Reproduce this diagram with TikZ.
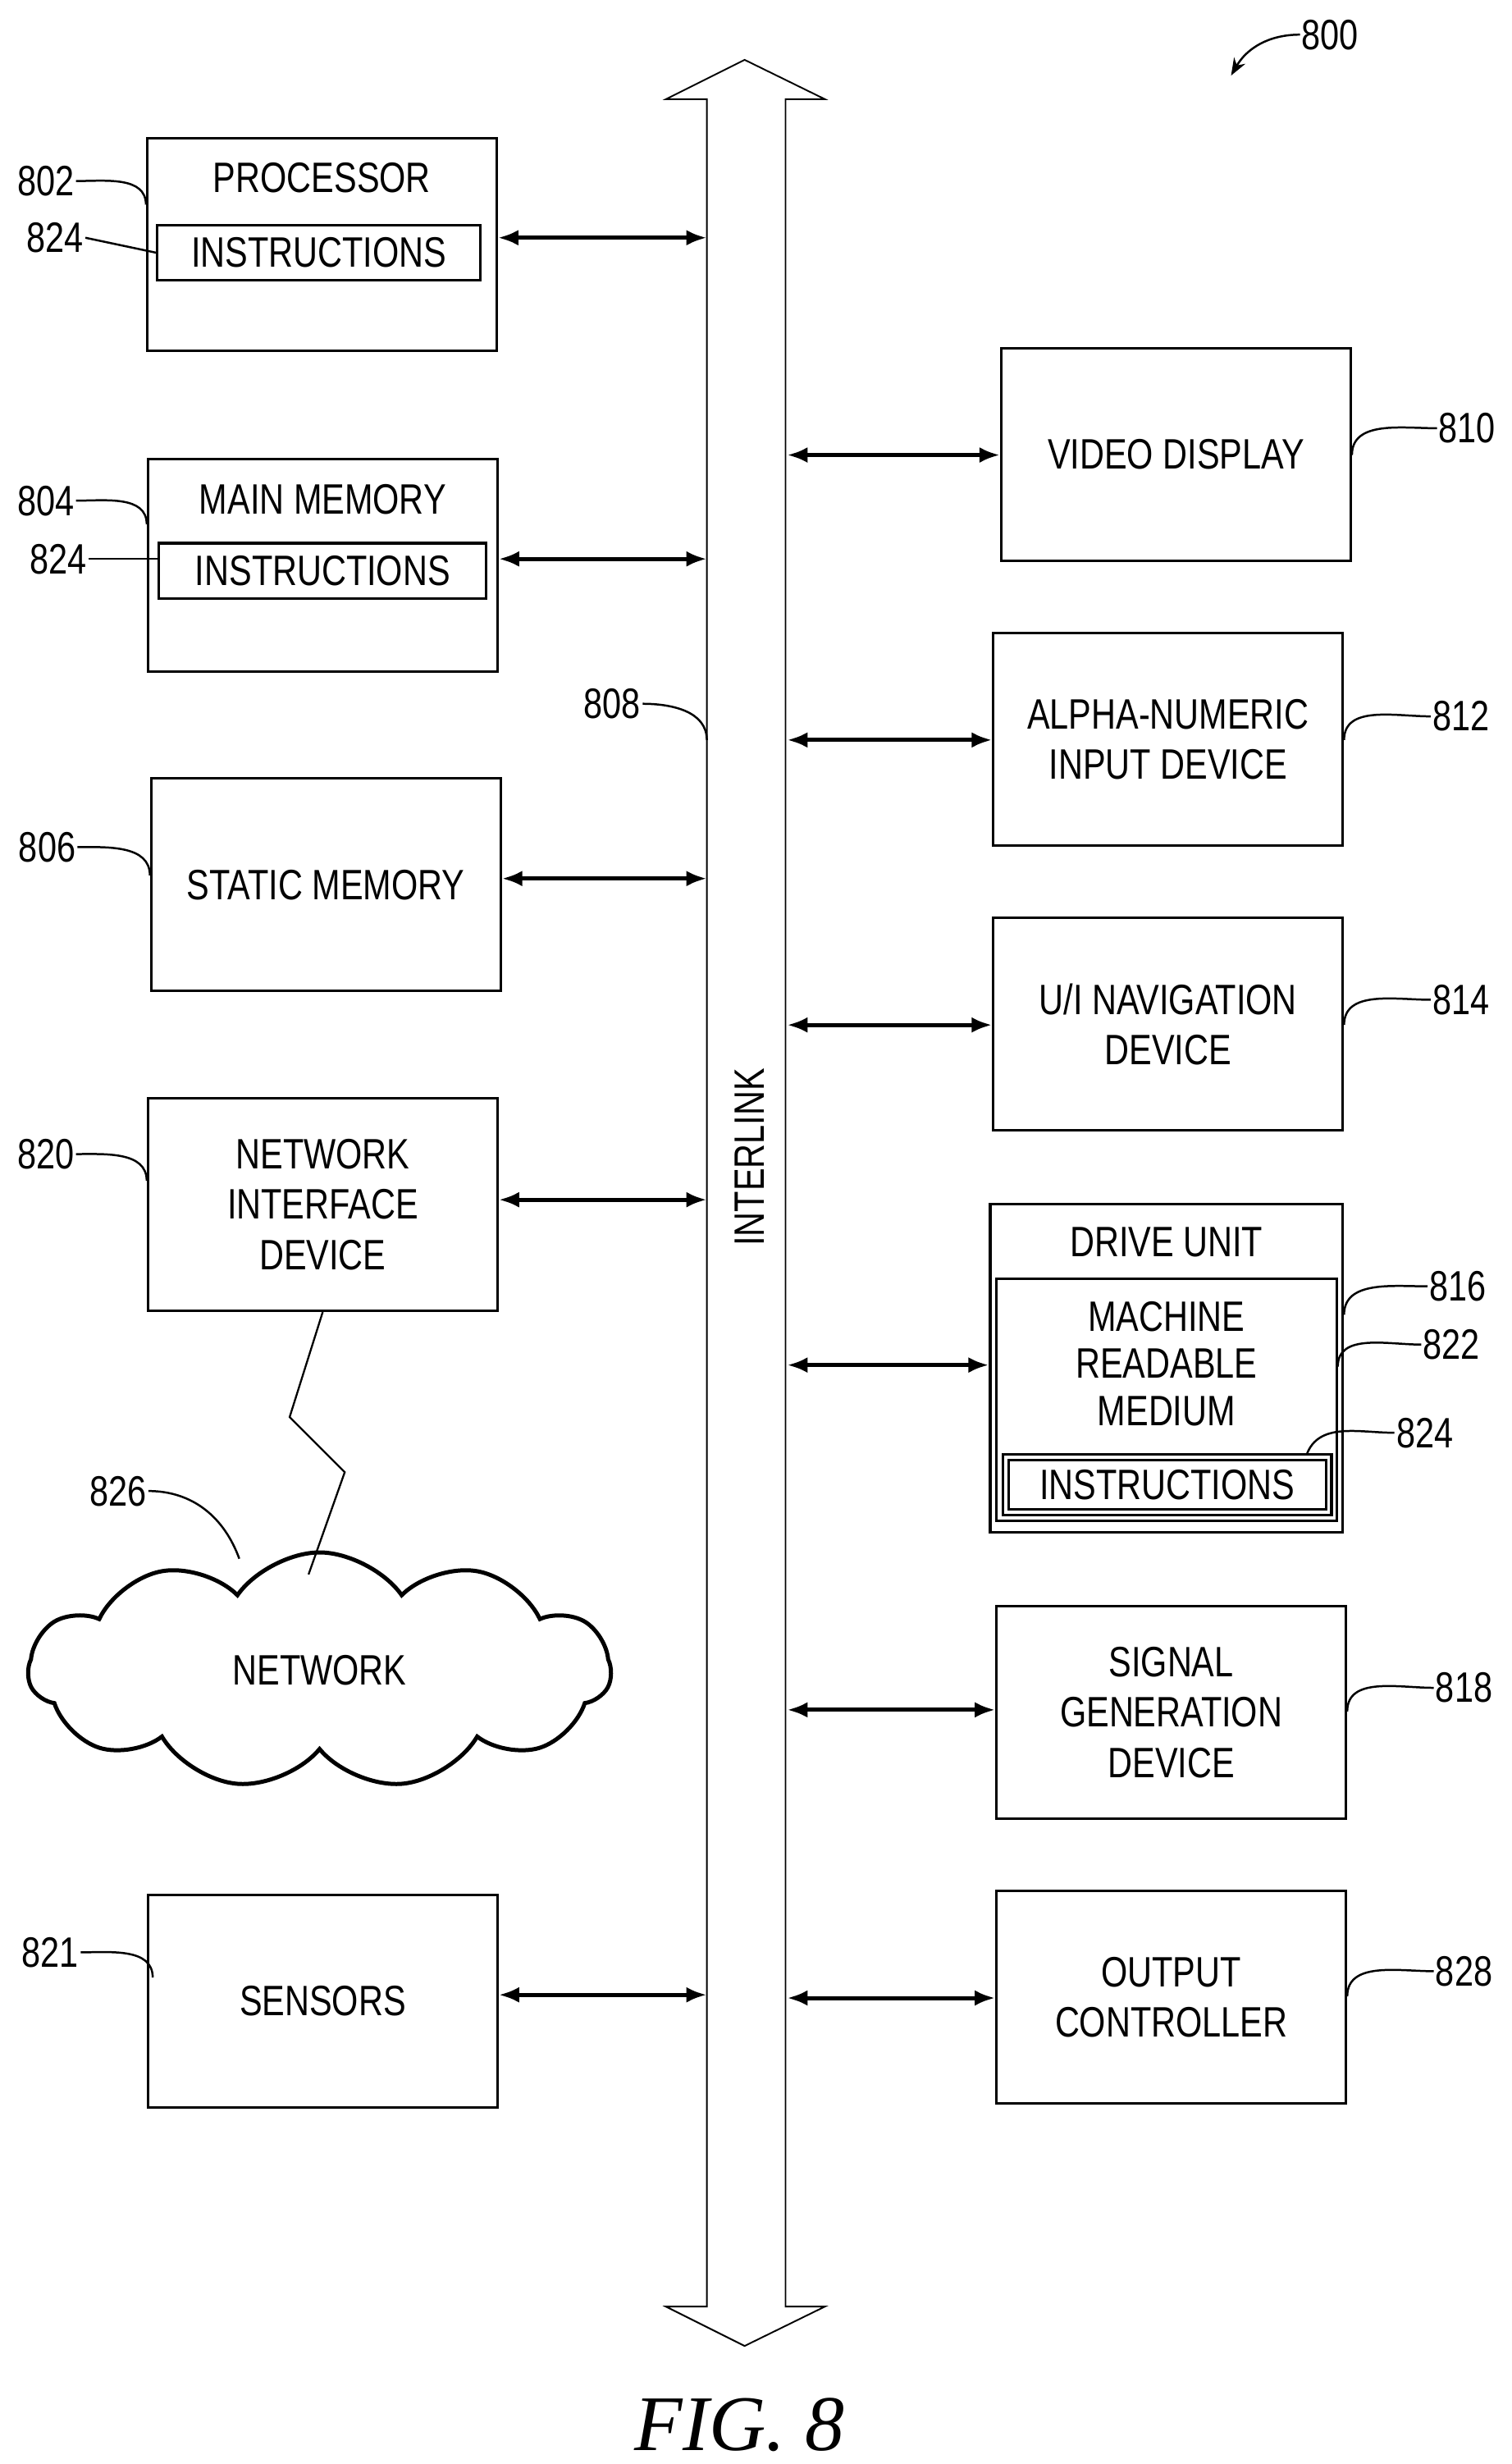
\documentclass[tikz,border=0pt]{standalone}
\usepackage{fontspec}
\setmainfont{Liberation Sans}[FakeStretch=0.8]
\newfontfamily\figfont{Liberation Serif}
\usetikzlibrary{arrows.meta, calc, shapes.symbols}
\begin{document}
\begin{tikzpicture}[x=1pt,y=-1pt,
  box/.style={draw, line width=1.6pt, minimum width=222pt, minimum height=135pt, align=center, inner sep=0pt},
  inbox/.style={draw, line width=1.6pt, minimum height=35pt, inner sep=0pt},
  link/.style={line width=2.6pt, {Latex[length=13pt,width=10pt]}-{Latex[length=13pt,width=10pt]}},
  lead/.style={line width=1.3pt},
  ref/.style={inner sep=1pt},
  every node/.style={font=\fontsize{27}{32}\selectfont}]
\useasboundingbox (0,0) rectangle (960,1565);

% interlink bus
\draw[line width=1pt] (449,1465) -- (449,63) -- (423,63) -- (473,38) -- (524,63) -- (499,63)
  -- (499,1465) -- (524,1465) -- (473,1490) -- (423,1465) -- cycle;
\node[rotate=90] (bus) at (476,735) {INTERLINK};
\coordinate (busL) at (449,0);
\coordinate (busR) at (500,0);

% left column
\node[box, minimum height=135pt] (proc) at (204.5,155.5) {};
\node (proct) at (204.5,113) {PROCESSOR};
\node[inbox, minimum width=205pt] (proci) at (202.5,160.5) {INSTRUCTIONS};
\node[box] (mem) at (205,359) {};
\node (memt) at (205,317) {MAIN MEMORY};
\node[inbox, minimum width=208pt] (memi) at (205,362.5) {INSTRUCTIONS};
\node[box] (stat) at (207,562) {STATIC MEMORY};
\node[box] (nic) at (205,765) {NETWORK\\INTERFACE\\DEVICE};
\node[box] (sens) at (205,1271) {SENSORS};
\node[cloud, draw, line width=2.6pt, cloud puffs=11, cloud puff arc=110, aspect=2.4,
  minimum width=370pt, minimum height=150pt] (net) at (203,1061) {NETWORK};

% right column
\node[box] (vid) at (747,288.5) {VIDEO DISPLAY};
\node[box] (alpha) at (742,469.5) {ALPHA-NUMERIC\\INPUT DEVICE};
\node[box] (nav) at (742,650.5) {U/I NAVIGATION\\DEVICE};
\node[box, minimum width=224pt, minimum height=208pt] (drive) at (741,869) {};
\node[draw, line width=1.6pt, minimum width=216pt, minimum height=154pt, inner sep=0pt] (mrm) at (741,889) {};
\node (drivet) at (741,789) {DRIVE UNIT};
\node (mrmt) at (741,869) {\begin{tabular}{c}MACHINE\\[-2pt]READABLE\\[-2pt]MEDIUM\end{tabular}};
\node[inbox, minimum width=205pt, double, double distance=2pt] (mrmi) at (741.5,943) {INSTRUCTIONS};
\node[box] (sig) at (744,1087.5) {SIGNAL\\GENERATION\\DEVICE};
\node[box] (out) at (744,1268.5) {OUTPUT\\CONTROLLER};

% links to the bus
\foreach \n/\y in {proc/151, mem/355, stat/558, nic/762, sens/1267}
  \draw[link] (\n.east |- 0,\y) -- (busL |- 0,\y);
\foreach \n/\y in {vid/289, alpha/470, nav/651, drive/867, sig/1086, out/1269}
  \draw[link] (busR |- 0,\y) -- (\n.west |- 0,\y);

% lightning
\draw[line width=1.2pt] (nic.south) -- (184,900) -- (219,935) -- (196,1000);

% reference labels
\node[ref] (l800) at (845,22) {800};
\draw[lead, -{Stealth[length=11pt]}] (l800.west) to[out=180,in=60] (782,48);
\node[ref] (l802) at (29,115) {802};
\draw[lead] (l802.east) to[out=0,in=90] (proc.west |- 0,130);
\node[ref] (l824a) at (35,151) {824};
\draw[lead] (l824a.east) -- (proci.west);
\node[ref] (l804) at (29,318) {804};
\draw[lead] (l804.east) to[out=0,in=90] (mem.west |- 0,333);
\node[ref] (l824b) at (37,355) {824};
\draw[lead] (l824b.east) -- (memi.west |- 0,355);
\node[ref] (l808) at (389,447) {808};
\draw[lead] (l808.east) to[out=0,in=90] (449,470);
\node[ref] (l806) at (30,538) {806};
\draw[lead] (l806.east) to[out=0,in=90] (stat.west |- 0,556);
\node[ref] (l820) at (29,733) {820};
\draw[lead] (l820.east) to[out=0,in=90] (nic.west |- 0,750);
\node[ref] (l826) at (75,947) {826};
\draw[lead] (l826.east) to[out=0,in=110] (152,990);
\node[ref] (l821) at (32,1240) {821};
\draw[lead] (l821.east) to[out=0,in=90] (97,1256);
\node[ref] (l810) at (932,272) {810};
\draw[lead] (l810.west) to[out=180,in=90] (vid.east |- 0,289);
\node[ref] (l812) at (928,455) {812};
\draw[lead] (l812.west) to[out=180,in=90] (alpha.east |- 0,470);
\node[ref] (l814) at (928,635) {814};
\draw[lead] (l814.west) to[out=180,in=90] (nav.east |- 0,651);
\node[ref] (l816) at (926,817) {816};
\draw[lead] (l816.west) to[out=180,in=90] (drive.east |- 0,835);
\node[ref] (l822) at (922,854) {822};
\draw[lead] (l822.west) to[out=180,in=90] (mrm.east |- 0,868);
\node[ref] (l824c) at (905,910) {824};
\draw[lead] (l824c.west) to[out=180,in=70] (830,924);
\node[ref] (l818) at (930,1072) {818};
\draw[lead] (l818.west) to[out=180,in=90] (sig.east |- 0,1087);
\node[ref] (l828) at (930,1252) {828};
\draw[lead] (l828.west) to[out=180,in=90] (out.east |- 0,1268);

\node[font=\figfont\itshape\fontsize{50}{56}\selectfont] (fig) at (470,1540) {FIG. 8};
\end{tikzpicture}
\end{document}
